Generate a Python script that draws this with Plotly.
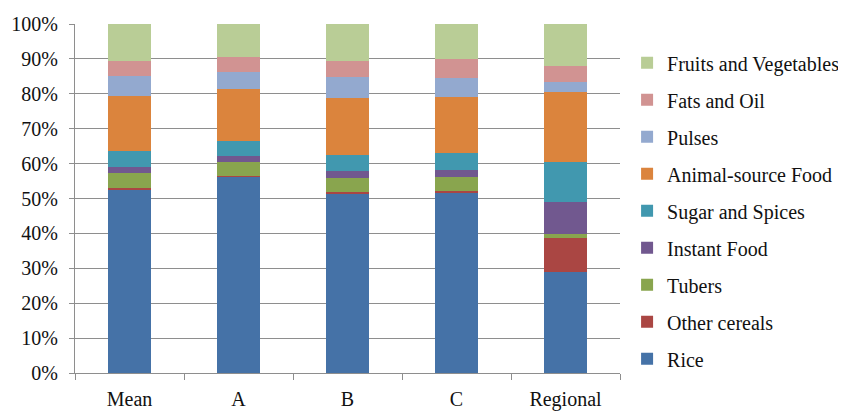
import plotly.graph_objects as go

categories = ["Mean", "A", "B", "C", "Regional"]

rice = [52.5, 56.2, 51.3, 51.7, 29.0]
other_cereals = [0.4, 0.3, 0.5, 0.4, 9.8]
tubers = [4.5, 4.0, 4.2, 4.2, 0.9]
instant_food = [1.6, 1.7, 1.9, 1.9, 9.4]
sugar_spices = [4.5, 4.4, 4.6, 4.7, 11.4]
animal_food = [16.0, 14.7, 16.4, 16.3, 20.1]
pulses = [5.5, 5.0, 5.8, 5.2, 2.9]
fats_oil = [4.5, 4.2, 4.8, 5.5, 4.5]
fruits_veg = [10.5, 9.5, 10.5, 10.1, 12.0]

series = [
    ("Rice", rice, "#4572A7"),
    ("Other cereals", other_cereals, "#AA4643"),
    ("Tubers", tubers, "#89A54E"),
    ("Instant Food", instant_food, "#71588F"),
    ("Sugar and Spices", sugar_spices, "#4198AF"),
    ("Animal-source Food", animal_food, "#DB843D"),
    ("Pulses", pulses, "#93A9CF"),
    ("Fats and Oil", fats_oil, "#D19392"),
    ("Fruits and Vegetables", fruits_veg, "#B9CD96"),
]

font_family = "Liberation Serif, Times New Roman, serif"

fig = go.Figure()
n = len(series)
for i, (name, vals, color) in enumerate(series):
    fig.add_trace(go.Bar(
        x=categories, y=[v / 100 for v in vals], name=name,
        marker=dict(color=color, line=dict(width=0)),
        legendgroup=name, legendrank=n - i,
    ))

fig.update_layout(
    barmode="stack",
    bargap=0.6,
    width=838, height=403,
    margin=dict(l=67, r=226, t=16, b=38, autoexpand=False),
    paper_bgcolor="white", plot_bgcolor="white",
    font=dict(family=font_family, size=20, color="#111111"),
    legend=dict(
        traceorder="grouped", tracegroupgap=8,
        x=1.013, xanchor="left", y=0.945, yanchor="top",
        font=dict(family=font_family, size=20, color="#111111"),
        itemwidth=30, maxheight=1,
    ),
    showlegend=True,
)
fig.update_yaxes(
    range=[0, 1], tickformat=".0%", dtick=0.1,
    showgrid=True, gridcolor="#8e8e8e", gridwidth=1,
    showline=True, linecolor="#8e8e8e", linewidth=1,
    ticks="outside", ticklen=5, tickcolor="#8e8e8e",
    ticklabelstandoff=7,
    zeroline=False,
)
fig.update_xaxes(
    showline=True, linecolor="#8e8e8e", linewidth=1,
    ticks="outside", ticklen=6, tickcolor="#8e8e8e", tickson="boundaries",
    ticklabelstandoff=8,
)

fig.write_html("out.html")
